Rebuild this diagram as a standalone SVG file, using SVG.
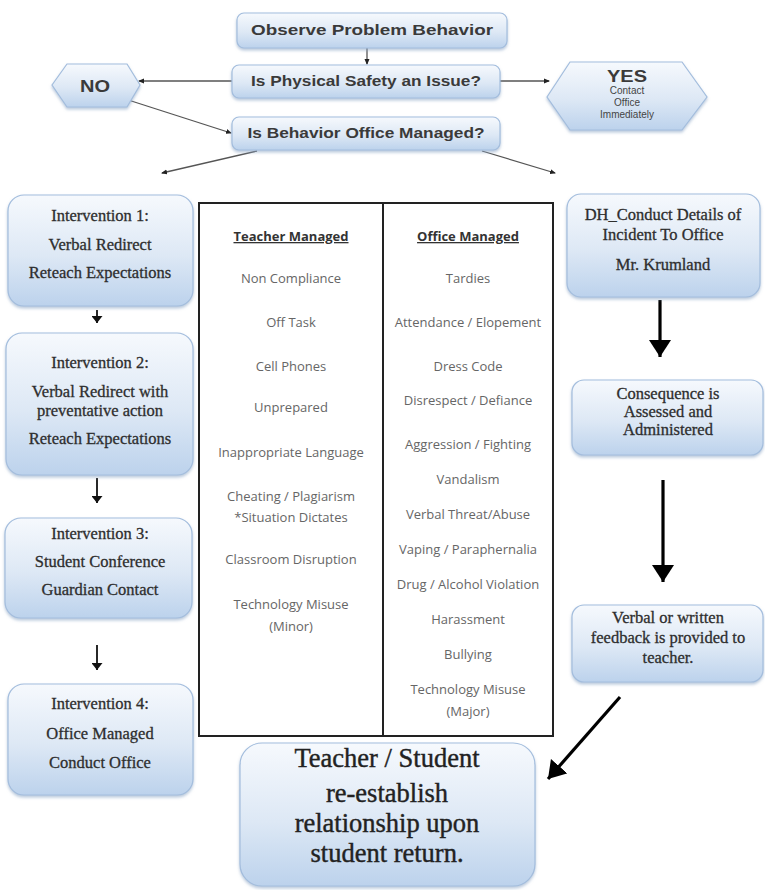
<svg xmlns="http://www.w3.org/2000/svg" width="765" height="890" viewBox="0 0 765 890">
<defs>
<linearGradient id="boxGrad" x1="0" y1="0" x2="0" y2="1">
<stop offset="0" stop-color="#f6f9fd"/>
<stop offset="0.55" stop-color="#dde8f5"/>
<stop offset="1" stop-color="#bcd2ec"/>
</linearGradient>
<filter id="shadow" x="-10%" y="-10%" width="120%" height="130%">
<feDropShadow dx="0" dy="2" stdDeviation="1.5" flood-color="#8aa4c4" flood-opacity="0.6"/>
</filter>
<marker id="dot" markerWidth="6" markerHeight="6" refX="5" refY="3" orient="auto" markerUnits="userSpaceOnUse">
<path d="M0,0.5 L6,3 L0,5.5 Z" fill="#222"/>
</marker>
<marker id="small" markerWidth="7" markerHeight="11" refX="7" refY="5.5" orient="auto" markerUnits="userSpaceOnUse" viewBox="0 0 7 11">
<path d="M0,0 L7,5.5 L0,11 Z" fill="#111"/>
</marker>
<marker id="big" markerWidth="17" markerHeight="22" refX="17" refY="11" orient="auto" markerUnits="userSpaceOnUse" viewBox="0 0 17 22">
<path d="M0,0 L17,11 L0,22 Z" fill="#000"/>
</marker>
</defs>
<style>
.box{fill:url(#boxGrad);stroke:#a3bddd;stroke-width:1.2;filter:url(#shadow)}
.sans{font-family:"Liberation Sans",Arial,sans-serif;font-weight:bold;fill:#3a3a3a;text-anchor:middle}
.small{font-family:"Liberation Sans",Arial,sans-serif;font-size:10px;fill:#444;text-anchor:middle}
.serif{font-family:"Liberation Serif","Times New Roman",serif;font-size:16.5px;fill:#2e2e2e;stroke:#2e2e2e;stroke-width:0.3;text-anchor:middle}
.big{font-family:"Liberation Serif","Times New Roman",serif;font-size:26.5px;fill:#222;stroke:#222;stroke-width:0.4;text-anchor:middle}
.cell{font-family:"Open Sans",sans-serif;font-size:13px;fill:#666;text-anchor:middle}
.head{font-family:"Open Sans",sans-serif;font-size:13px;font-weight:bold;fill:#333;text-anchor:middle;text-decoration:underline}
.thin{stroke:#555;stroke-width:1.3;fill:none}
.blk{stroke:#111;stroke-width:1.8;fill:none}
.thick{stroke:#000;stroke-width:3.2;fill:none}
</style>

<g id="connectors">
<line class="thin" x1="367" y1="48" x2="367" y2="64" marker-end="url(#dot)"/>
<line class="thin" x1="232" y1="81" x2="139" y2="81" marker-end="url(#dot)"/>
<line class="thin" x1="500" y1="81" x2="549" y2="81" marker-end="url(#dot)"/>
<line class="thin" x1="122" y1="98" x2="231" y2="133" marker-end="url(#dot)"/>
<line class="thin" x1="257" y1="151" x2="162" y2="173" marker-end="url(#dot)"/>
<line class="thin" x1="482" y1="151" x2="555" y2="173" marker-end="url(#dot)"/>
<line class="blk" x1="97" y1="310" x2="97" y2="323" marker-end="url(#small)"/>
<line class="blk" x1="97" y1="478" x2="97" y2="503" marker-end="url(#small)"/>
<line class="blk" x1="97" y1="645" x2="97" y2="670" marker-end="url(#small)"/>
<line class="thick" x1="660" y1="300" x2="660" y2="357" marker-end="url(#big)"/>
<line class="thick" x1="663" y1="480" x2="663" y2="582" marker-end="url(#big)"/>
<line class="thick" x1="620" y1="697" x2="548" y2="779" marker-end="url(#big)"/>
</g>

<g id="observe">
<rect class="box" x="237" y="13" width="270" height="35" rx="7"/>
<text class="sans" x="372" y="35" font-size="15.5" textLength="242" lengthAdjust="spacingAndGlyphs">Observe Problem Behavior</text>
</g>
<g id="physical">
<rect class="box" x="232" y="65" width="268" height="33" rx="7"/>
<text class="sans" x="366" y="86" font-size="15" textLength="230" lengthAdjust="spacingAndGlyphs">Is Physical Safety an Issue?</text>
</g>
<g id="no">
<polygon class="box" points="52,85 67,64 127,64 140,85 127,107 67,107"/>
<text class="sans" x="95" y="92" font-size="16" textLength="30" lengthAdjust="spacingAndGlyphs">NO</text>
</g>
<g id="yes">
<polygon class="box" points="547,97 570,62 682,62 707,97 682,130 570,130"/>
<text class="sans" x="627" y="82" font-size="17" textLength="40" lengthAdjust="spacingAndGlyphs">YES</text>
<text class="small" x="627" y="94">Contact</text>
<text class="small" x="627" y="106">Office</text>
<text class="small" x="627" y="118">Immediately</text>
</g>
<g id="office-q">
<rect class="box" x="232" y="117" width="268" height="33" rx="7"/>
<text class="sans" x="366" y="138" font-size="15" textLength="237" lengthAdjust="spacingAndGlyphs">Is Behavior Office Managed?</text>
</g>

<g id="int1">
<rect class="box" x="8" y="195" width="185" height="111" rx="16"/>
<text class="serif" x="100" y="221">Intervention 1:</text>
<text class="serif" x="100" y="250">Verbal Redirect</text>
<text class="serif" x="100" y="278">Reteach Expectations</text>
</g>
<g id="int2">
<rect class="box" x="6" y="333" width="187" height="142" rx="16"/>
<text class="serif" x="100" y="368">Intervention 2:</text>
<text class="serif" x="100" y="397">Verbal Redirect with</text>
<text class="serif" x="100" y="416">preventative action</text>
<text class="serif" x="100" y="444">Reteach Expectations</text>
</g>
<g id="int3">
<rect class="box" x="5" y="518" width="187" height="100" rx="16"/>
<text class="serif" x="100" y="539">Intervention 3:</text>
<text class="serif" x="100" y="567">Student Conference</text>
<text class="serif" x="100" y="595">Guardian Contact</text>
</g>
<g id="int4">
<rect class="box" x="8" y="684" width="185" height="111" rx="16"/>
<text class="serif" x="100" y="709">Intervention 4:</text>
<text class="serif" x="100" y="739">Office Managed</text>
<text class="serif" x="100" y="768">Conduct Office</text>
</g>

<g id="table">
<rect x="199" y="203" width="354" height="533" fill="#fff" stroke="#222" stroke-width="2"/>
<line x1="383" y1="203" x2="383" y2="736" stroke="#222" stroke-width="2"/>
<text class="head" x="291" y="241">Teacher Managed</text>
<text class="cell" x="291" y="283">Non Compliance</text>
<text class="cell" x="291" y="327">Off Task</text>
<text class="cell" x="291" y="371">Cell Phones</text>
<text class="cell" x="291" y="412">Unprepared</text>
<text class="cell" x="291" y="457">Inappropriate Language</text>
<text class="cell" x="291" y="501">Cheating / Plagiarism</text>
<text class="cell" x="291" y="522">*Situation Dictates</text>
<text class="cell" x="291" y="564">Classroom Disruption</text>
<text class="cell" x="291" y="609">Technology Misuse</text>
<text class="cell" x="291" y="631">(Minor)</text>
<text class="head" x="468" y="241">Office Managed</text>
<text class="cell" x="468" y="283">Tardies</text>
<text class="cell" x="468" y="327">Attendance / Elopement</text>
<text class="cell" x="468" y="371">Dress Code</text>
<text class="cell" x="468" y="405">Disrespect / Defiance</text>
<text class="cell" x="468" y="449">Aggression / Fighting</text>
<text class="cell" x="468" y="484">Vandalism</text>
<text class="cell" x="468" y="519">Verbal Threat/Abuse</text>
<text class="cell" x="468" y="554">Vaping / Paraphernalia</text>
<text class="cell" x="468" y="589">Drug / Alcohol Violation</text>
<text class="cell" x="468" y="624">Harassment</text>
<text class="cell" x="468" y="659">Bullying</text>
<text class="cell" x="468" y="694">Technology Misuse</text>
<text class="cell" x="468" y="716">(Major)</text>
</g>

<g id="dh">
<rect class="box" x="567" y="194" width="193" height="103" rx="14"/>
<text class="serif" x="663" y="220">DH_Conduct Details of</text>
<text class="serif" x="663" y="240">Incident To Office</text>
<text class="serif" x="663" y="270">Mr. Krumland</text>
</g>
<g id="consequence">
<rect class="box" x="572" y="380" width="191" height="75" rx="12"/>
<text class="serif" x="668" y="399">Consequence is</text>
<text class="serif" x="668" y="417">Assessed and</text>
<text class="serif" x="668" y="435">Administered</text>
</g>
<g id="feedback">
<rect class="box" x="572" y="605" width="191" height="77" rx="12"/>
<text class="serif" x="668" y="623">Verbal or written</text>
<text class="serif" x="668" y="643">feedback is provided to</text>
<text class="serif" x="668" y="663">teacher.</text>
</g>
<g id="reestablish">
<rect class="box" x="240" y="743" width="295" height="143" rx="22"/>
<text class="big" x="387" y="767">Teacher / Student</text>
<text class="big" x="387" y="802">re-establish</text>
<text class="big" x="387" y="832">relationship upon</text>
<text class="big" x="387" y="862">student return.</text>
</g>
</svg>
